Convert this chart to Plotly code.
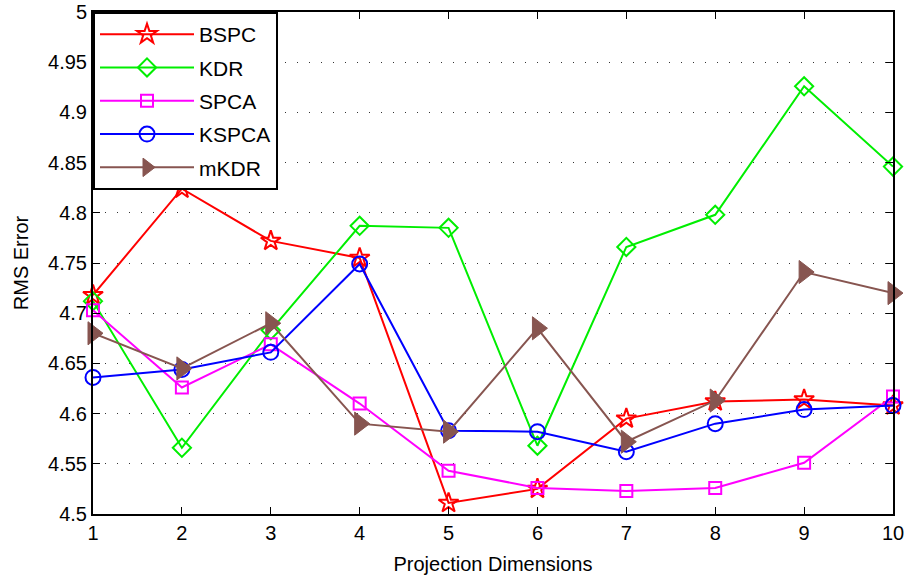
import plotly.graph_objects as go

dims = [1, 2, 3, 4, 5, 6, 7, 8, 9, 10]
bspc = [4.718, 4.824, 4.772, 4.755, 4.511, 4.525, 4.595, 4.612, 4.614, 4.608]
kdr = [4.712, 4.566, 4.683, 4.787, 4.785, 4.568, 4.766, 4.798, 4.926, 4.846]
spca = [4.703, 4.626, 4.669, 4.610, 4.543, 4.526, 4.523, 4.526, 4.551, 4.617]
kspca = [4.636, 4.644, 4.661, 4.749, 4.583, 4.582, 4.562, 4.590, 4.604, 4.608]
mkdr = [4.680, 4.645, 4.690, 4.590, 4.582, 4.685, 4.572, 4.613, 4.741, 4.720]
y_ticks = [4.5, 4.55, 4.6, 4.65, 4.7, 4.75, 4.8, 4.85, 4.9, 4.95, 5.0]
y_tick_text = ["4.5", "4.55", "4.6", "4.65", "4.7", "4.75", "4.8", "4.85", "4.9", "4.95", "5"]

series = [
    ("BSPC", bspc, "#ff0000", "star-open", 15, 2),
    ("KDR", kdr, "#00ee00", "diamond-open", 14, 2),
    ("SPCA", spca, "#ff00ff", "square-open", 12, 2),
    ("KSPCA", kspca, "#0000ff", "circle-open", 15, 2),
    ("mKDR", mkdr, "#875550", "triangle-right", 20, 1),
]

fig = go.Figure()
for name, vals, color, sym, size, lw in series:
    fig.add_trace(go.Scatter(
        x=dims, y=vals, name=name, mode="lines+markers", legendgroup=name,
        line=dict(color=color, width=2),
        marker=dict(symbol=sym, size=size, color=color,
                    line=dict(color=color, width=lw)),
        cliponaxis=False,
    ))

font = "Liberation Sans, Arial, sans-serif"
fig.update_layout(
    width=906, height=576,
    margin=dict(l=93, r=13, t=12, b=62, autoexpand=False),
    plot_bgcolor="white", paper_bgcolor="white",
    font=dict(family=font, size=20, color="black"),
    showlegend=True,
    legend=dict(
        x=0, y=1, xanchor="left", yanchor="top",
        bgcolor="white", bordercolor="black", borderwidth=2,
        font=dict(size=21, family=font),
        itemwidth=94, tracegroupgap=3,
    ),
    xaxis=dict(
        range=[1, 10], tickvals=dims, ticks="inside", ticklen=7,
        tickcolor="black", showline=True, linecolor="black", linewidth=2,
        mirror="ticks", showgrid=False, zeroline=False, automargin=False,
        title=dict(text="Projection Dimensions", standoff=14, font=dict(size=20)),
        tickfont=dict(size=20),
    ),
    yaxis=dict(
        range=[4.5, 5.0], tickvals=y_ticks, ticktext=y_tick_text,
        ticks="inside", ticklen=7, tickcolor="black",
        showline=True, linecolor="black", linewidth=2, mirror="ticks",
        showgrid=True, gridcolor="#333333", gridwidth=1, griddash="1px,11px",
        zeroline=False, automargin=False,
        title=dict(text="RMS Error", standoff=14, font=dict(size=20)),
        tickfont=dict(size=20),
    ),
)

fig.write_html("out.html")
